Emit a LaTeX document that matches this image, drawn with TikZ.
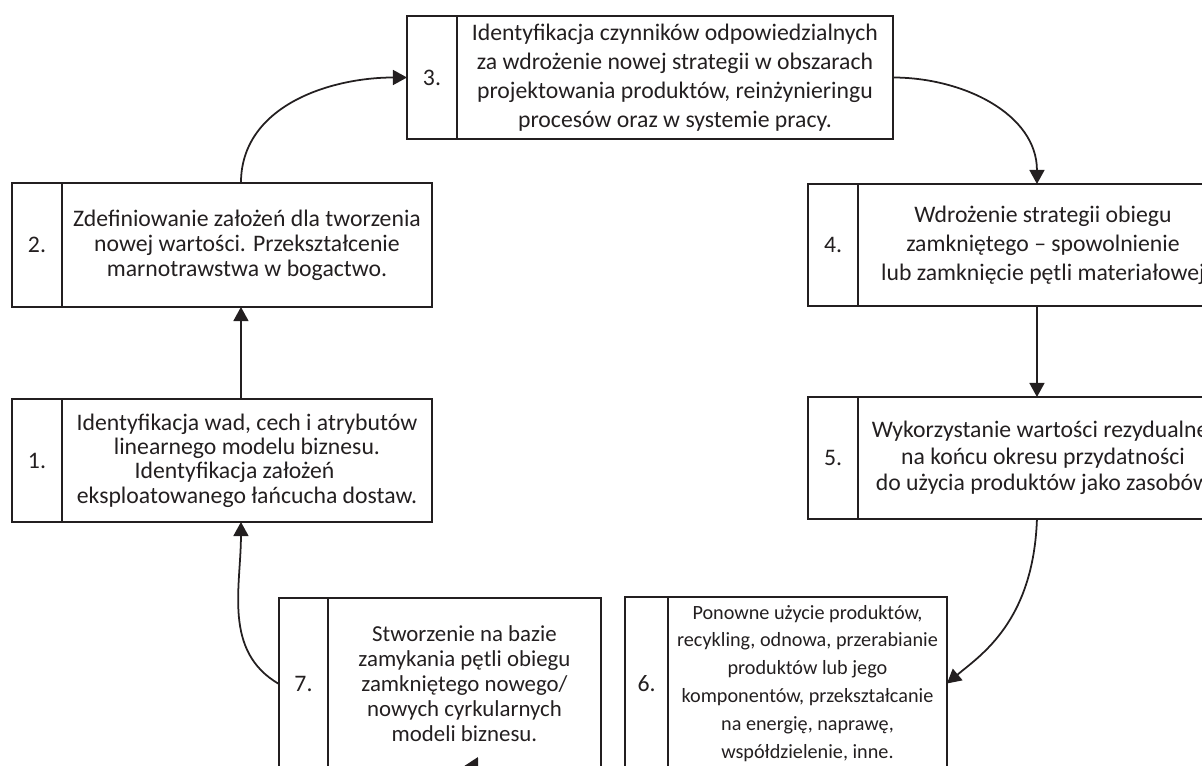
\documentclass[tikz,border=0pt]{standalone}
\usepackage{fontspec}
\setmainfont{Carlito}
\usetikzlibrary{arrows.meta,positioning}
\definecolor{ink}{HTML}{231F20}

\begin{document}
\begin{tikzpicture}[x=0.02cm,y=0.02cm,node distance=0pt,
    numcell/.style={draw=ink, text=ink, line width=1.25pt, outer sep=0pt, inner sep=0pt,
      anchor=north west, minimum width=1cm, minimum height=2.46cm,
      font=\fontsize{13.5}{16}\selectfont},
    txtcell/.style={draw=ink, text=ink, line width=1.25pt, outer sep=0pt, inner sep=0pt,
      align=center, minimum height=2.46cm, font=\fontsize{13.5}{16.4}\selectfont},
    arr/.style={draw=ink, line width=1pt, -{Triangle[length=8pt,width=8.5pt]}}]

    \useasboundingbox (0,0) rectangle (1202,-765);
    \clip (0,0) rectangle (1202,-765);

    % left column
    \node[numcell] (n1) at (12,-399) {1.};
    \node[txtcell, right=of n1, minimum width=7.4cm, font=\fontsize{13.5}{13.9}\selectfont] (t1)
      {Identyfikacja wad, cech i atrybutów\\linearnego modelu biznesu.\\Identyfikacja założeń\hphantom{nn}\\eksploatowanego łańcucha dostaw.};
    \node[numcell, minimum height=2.48cm] (n2) at (12,-183) {2.};
    \node[txtcell, right=of n2, minimum width=7.4cm, minimum height=2.48cm, font=\fontsize{13.5}{14.2}\selectfont] (t2)
      {Zdefiniowanie założeń dla tworzenia\\nowej wartości. Przekształcenie\\marnotrawstwa w bogactwo.};

    % top
    \node[numcell] (n3) at (407,-16) {3.};
    \node[txtcell, right=of n3, minimum width=8.72cm] (t3)
      {Identyfikacja czynników odpowiedzialnych\\za wdrożenie nowej strategii w obszarach\\projektowania produktów, reinżynieringu\\procesów oraz w systemie pracy.};

    % right column
    \node[numcell, minimum height=2.44cm] (n4) at (808,-184) {4.};
    \node[txtcell, right=of n4, minimum width=7.4cm, minimum height=2.44cm] (t4)
      {Wdrożenie strategii obiegu\\zamkniętego – spowolnienie\\lub zamknięcie pętli materiałowej};
    \node[numcell, minimum height=2.44cm] (n5) at (808,-397) {5.};
    \node[txtcell, right=of n5, minimum width=7.4cm, minimum height=2.44cm, font=\fontsize{13.5}{15}\selectfont] (t5)
      {Wykorzystanie wartości rezydualnej\\na końcu okresu przydatności\\do użycia produktów jako zasobów};

    % bottom
    \node[numcell, minimum width=0.86cm, minimum height=3.46cm] (n6) at (625,-597) {6.};
    \node[txtcell, right=of n6, minimum width=5.58cm, minimum height=3.46cm, font=\fontsize{11.5}{15.9}\selectfont] (t6)
      {Ponowne użycie produktów,\\recykling, odnowa, przerabianie\\produktów lub jego\\komponentów, przekształcanie\\na energię, naprawę,\\współdzielenie, inne.};
    \node[numcell, minimum width=0.98cm, minimum height=3.44cm] (n7) at (279,-598) {7.};
    \node[txtcell, right=of n7, minimum width=5.46cm, minimum height=3.44cm, font=\fontsize{13}{14.2}\selectfont] (t7)
      {Stworzenie na bazie\\zamykania pętli obiegu\\zamkniętego nowego/\\nowych cyrkularnych\\modeli biznesu.};
    \coordinate (tip7) at (478,-757);

    % arrows
    \draw[arr] ([xshift=-0.12cm]t1.north) -- ([xshift=-0.12cm]t2.south);
    \draw[arr] ([xshift=-0.12cm]t2.north) to[out=90,in=180] (n3.west);
    \draw[arr] (t3.east) to[out=0,in=90] ([xshift=-0.12cm]t4.north);
    \draw[arr] ([xshift=-0.12cm]t4.south) -- ([xshift=-0.12cm]t5.north);
    \draw[arr] ([xshift=-0.12cm]t5.south) to[out=-92,in=40,out looseness=1.4,in looseness=0.6] (t6.east);
    \draw[arr] (t6.south) to[out=-90,in=-118] (tip7);
    \draw[arr] (n7.west) to[out=150,in=-90] ([xshift=-0.12cm]t1.south);

\end{tikzpicture}
\end{document}
